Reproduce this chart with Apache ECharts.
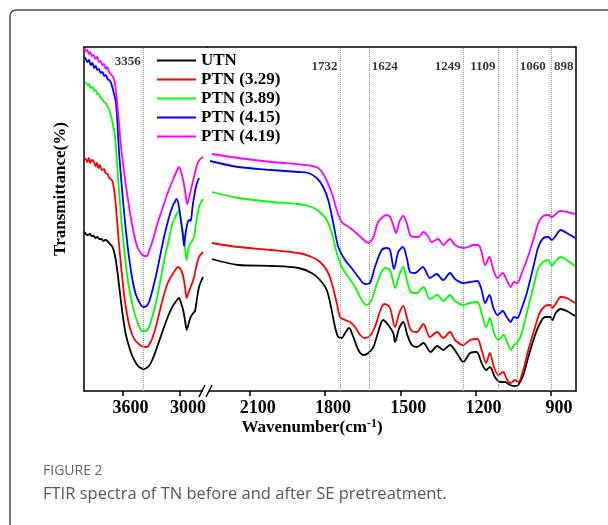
<!DOCTYPE html>
<html><head><meta charset="utf-8">
<script src="https://cdn.jsdelivr.net/npm/echarts@6/dist/echarts.min.js"></script>
<style>html,body{margin:0;padding:0;background:#fff}#c{width:608px;height:525px}</style>
</head><body><div id="c"></div>
<script>
const seriesNames = ['UTN', 'PTN (3.29)', 'PTN (3.89)', 'PTN (4.15)', 'PTN (4.19)'];
const seriesColors = ['#000000', '#ff0000', '#00ff00', '#0000ff', '#ff00ff'];

// High wavenumber segment (4000-2720 cm-1), transmittance in arbitrary units
const utnHigh = [[3995,159],[3982,157],[3960,156],[3940,157],[3920,155],[3900,155],[3882,153],[3862,154],[3840,152],[3820,152],[3800,150],[3780,151],[3757,150],[3730,147],[3710,145],[3695,142],[3675,134],[3653,120],[3632,103],[3612,87],[3590,71],[3566,57],[3530,44],[3497,35],[3460,28],[3427,24],[3375,22],[3350,23],[3323,25],[3290,31],[3254,40],[3210,52],[3167,64],[3120,76],[3081,84],[3040,90],[3011,93],[2990,88],[2966,80],[2948,70],[2931,61],[2910,68],[2890,74],[2870,77],[2845,80],[2825,92],[2803,104],[2780,110],[2761,114]];
const p329High = [[3995,233],[3982,232],[3965,229],[3950,233],[3935,228],[3918,231],[3896,229],[3880,225],[3865,228],[3850,223],[3835,226],[3815,221],[3792,222],[3775,218],[3755,217],[3735,213],[3705,210],[3685,200],[3670,187],[3653,167],[3636,147],[3610,121],[3584,97],[3558,80],[3532,67],[3497,56],[3462,50],[3400,45],[3347,44],[3306,49],[3270,58],[3237,70],[3185,90],[3133,107],[3070,118],[3018,124],[2990,121],[2966,114],[2948,103],[2931,93],[2910,99],[2890,104],[2870,109],[2855,114],[2830,125],[2803,134],[2761,139]];
const p389High = [[3982,309],[3965,306],[3948,307],[3930,303],[3912,304],[3895,300],[3878,301],[3862,297],[3845,297],[3828,293],[3810,292],[3792,289],[3775,288],[3757,285],[3740,282],[3722,276],[3705,270],[3690,262],[3680,257],[3663,238],[3646,214],[3624,186],[3601,160],[3575,136],[3549,114],[3515,95],[3480,80],[3440,68],[3393,60],[3360,60],[3323,64],[3290,74],[3254,87],[3210,108],[3167,130],[3120,150],[3081,167],[3040,176],[3011,180],[2990,170],[2966,157],[2948,143],[2931,131],[2915,141],[2897,147],[2875,150],[2855,154],[2830,170],[2803,184],[2780,189],[2761,192]];
const p415High = [[3995,334],[3982,332],[3965,329],[3948,331],[3930,326],[3912,328],[3895,323],[3878,325],[3862,321],[3845,322],[3826,318],[3808,319],[3790,315],[3772,316],[3755,312],[3740,311],[3722,309],[3700,302],[3685,296],[3670,290],[3653,270],[3636,240],[3610,208],[3584,180],[3558,155],[3532,134],[3497,112],[3462,97],[3420,88],[3383,84],[3350,85],[3323,89],[3290,100],[3254,114],[3210,134],[3167,154],[3120,172],[3081,184],[3050,190],[3035,192],[3010,183],[2987,167],[2970,155],[2959,145],[2945,156],[2925,167],[2905,171],[2890,170],[2872,183],[2855,194],[2830,206],[2803,213]];
const p419High = [[3995,343],[3982,340],[3965,341],[3950,337],[3935,339],[3918,335],[3900,336],[3882,332],[3862,334],[3845,329],[3828,330],[3810,326],[3792,327],[3775,322],[3757,324],[3740,319],[3722,317],[3705,315],[3688,312],[3670,302],[3653,287],[3636,268],[3618,247],[3592,226],[3566,207],[3540,190],[3514,174],[3480,157],[3445,144],[3410,138],[3375,135],[3347,135],[3323,140],[3280,152],[3237,167],[3185,182],[3133,197],[3070,212],[3030,221],[3011,224],[2990,219],[2966,210],[2945,198],[2925,187],[2900,196],[2873,207],[2845,218],[2821,227],[2790,232],[2761,234]];

// Low wavenumber segment (2270-800 cm-1)
const utnLow = [[2251,132],[2145,126],[2012,125],[1906,123],[1853,118],[1820,111],[1793,101],[1776,84],[1760,64],[1747,54],[1733,53],[1720,58],[1704,63],[1687,54],[1667,41],[1647,36],[1627,38],[1607,44],[1588,59],[1568,71],[1548,66],[1528,58],[1521,49],[1504,63],[1488,69],[1472,56],[1454,46],[1434,44],[1408,48],[1379,39],[1353,45],[1329,41],[1302,46],[1275,38],[1249,29],[1222,38],[1196,39],[1176,28],[1158,21],[1143,24],[1123,14],[1103,9],[1083,9],[1063,6],[1043,5],[1030,6],[1010,16],[990,34],[963,56],[943,68],[923,74],[903,74],[894,71],[881,78],[861,82],[837,80],[804,75]];
const p329Low = [[2251,148],[2145,144],[2012,141],[1906,138],[1853,134],[1820,129],[1793,121],[1773,108],[1753,88],[1740,74],[1720,71],[1700,69],[1680,64],[1660,56],[1641,53],[1621,55],[1601,64],[1574,84],[1561,87],[1541,83],[1521,64],[1504,78],[1488,85],[1474,74],[1458,61],[1434,59],[1408,67],[1382,54],[1353,59],[1329,53],[1302,59],[1282,51],[1249,46],[1222,51],[1193,52],[1176,41],[1158,28],[1143,38],[1127,24],[1109,16],[1090,19],[1074,11],[1060,8],[1043,11],[1030,9],[1010,21],[990,41],[963,64],[943,79],[923,85],[903,86],[894,83],[881,87],[861,94],[837,93],[804,88]];
const p389Low = [[2251,199],[2145,193],[2012,189],[1906,187],[1853,184],[1820,179],[1793,171],[1773,158],[1753,138],[1733,124],[1707,114],[1680,104],[1654,91],[1634,86],[1614,91],[1588,111],[1561,123],[1541,121],[1520,103],[1504,116],[1488,124],[1474,111],[1458,99],[1434,98],[1408,104],[1382,92],[1353,96],[1329,90],[1302,96],[1282,90],[1249,86],[1222,88],[1193,89],[1176,78],[1158,64],[1143,73],[1127,58],[1109,51],[1090,56],[1074,49],[1060,41],[1047,46],[1034,48],[1016,58],[996,78],[970,104],[950,123],[930,129],[910,131],[897,125],[884,129],[861,134],[837,131],[804,125]];
const p415Low = [[2258,230],[2145,224],[2012,221],[1906,219],[1866,218],[1833,213],[1807,204],[1787,191],[1767,168],[1747,144],[1720,131],[1694,123],[1667,114],[1641,107],[1621,108],[1601,124],[1574,141],[1554,143],[1541,141],[1525,122],[1508,139],[1490,144],[1474,133],[1461,119],[1441,118],[1410,124],[1382,113],[1355,117],[1329,111],[1302,118],[1282,112],[1249,108],[1222,109],[1193,110],[1176,101],[1162,88],[1145,96],[1129,83],[1113,76],[1092,80],[1076,74],[1060,69],[1047,74],[1034,73],[1016,83],[996,98],[970,124],[950,144],[930,153],[910,154],[897,151],[884,154],[861,161],[837,158],[804,153]];
const p419Low = [[2251,237],[2145,233],[2012,229],[1880,226],[1827,223],[1800,214],[1773,198],[1753,181],[1733,169],[1700,163],[1680,159],[1654,153],[1627,148],[1607,154],[1588,169],[1554,176],[1541,174],[1528,166],[1517,158],[1504,169],[1488,175],[1474,168],[1461,156],[1441,154],[1428,154],[1408,159],[1388,154],[1375,149],[1349,152],[1329,146],[1302,152],[1282,146],[1249,143],[1229,144],[1209,146],[1189,146],[1176,139],[1162,126],[1145,134],[1129,121],[1113,113],[1092,118],[1076,111],[1060,104],[1047,109],[1034,108],[1016,118],[996,131],[970,151],[950,168],[930,175],[910,176],[897,174],[884,176],[864,180],[837,179],[804,177]];

const highData = [utnHigh, p329High, p389High, p415High, p419High];
const lowData = [utnLow, p329Low, p389Low, p415Low, p419Low];

const peakLabels = ['3356', '1732', '1624', '1249', '1109', '1060', '898'];
const peakPositions = [3383, 1740, 1624, 1249, 1111, 1034, 898];
const peakSides = ['left', 'left', 'right', 'left', 'left', 'right', 'right'];
const tickHigh = [3600, 3000];
const tickLow = [2100, 1800, 1500, 1200, 900];

const SERIF = "'Liberation Serif','Times New Roman',serif";
const chart = echarts.init(document.getElementById('c'), null, {renderer: 'canvas'});

const axisLineStyle = {show: true, lineStyle: {color: '#000', width: 1.5}};
function bottomAxis(grid, min, max, ticks) {
  return {
    type: 'value', gridIndex: grid, inverse: true, min: min, max: max, position: 'bottom',
    axisLine: axisLineStyle,
    axisTick: {show: true, inside: false, length: 5, customValues: ticks, lineStyle: {color: '#000', width: 1.5}},
    axisLabel: {customValues: ticks, formatter: v => String(v), color: '#000', fontFamily: SERIF, fontWeight: 'bold', fontSize: 18, margin: 8, padding: [0, 0, 0, 16]},
    splitLine: {show: false}
  };
}
function topAxis(grid, min, max) {
  return {type: 'value', gridIndex: grid, inverse: true, min: min, max: max, position: 'top',
    axisLine: axisLineStyle, axisTick: {show: false}, axisLabel: {show: false}, splitLine: {show: false}};
}
function yAx(grid, pos) {
  return {type: 'value', gridIndex: grid, min: 0, max: 344, position: pos,
    axisLine: axisLineStyle, axisTick: {show: false}, axisLabel: {show: false}, splitLine: {show: false}};
}

const series = [];
seriesNames.forEach((n, i) => {
  [[0, highData[i]], [1, lowData[i]]].forEach(([g, d]) => {
    series.push({
      name: n, type: 'line', xAxisIndex: g, yAxisIndex: g, data: d,
      symbol: 'none', smooth: 0.3, lineStyle: {color: seriesColors[i], width: 1.8},
      itemStyle: {color: seriesColors[i]}, z: 3 + i
    });
  });
});

// peak markers and labels
[0, 1].forEach(g => {
  const idx = peakPositions.map((p, k) => k).filter(k => (g === 0 ? peakPositions[k] > 2500 : peakPositions[k] < 2500));
  series.push({
    type: 'scatter', xAxisIndex: g, yAxisIndex: g, symbolSize: 1, itemStyle: {color: 'rgba(0,0,0,0)'}, silent: true, z: 2,
    label: {show: true, distance: 2, color: '#000', fontFamily: SERIF, fontWeight: 'bold', fontSize: 13,
      formatter: p => p.data.text},
    data: idx.map(k => ({
      value: [peakPositions[k], g === 0 ? 329 : 324], text: peakLabels[k],
      label: {position: peakSides[k]}
    })),
    markLine: {
      silent: true, symbol: ['none', 'none'], label: {show: false},
      lineStyle: {color: '#999', type: 'dotted', width: 1},
      data: idx.map(k => ({xAxis: peakPositions[k]}))
    }
  });
});

chart.setOption({
  animation: false,
  backgroundColor: '#fff',
  grid: [
    {left: 84, top: 47, width: 123, height: 344},
    {left: 207, top: 47, width: 369, height: 344}
  ],
  xAxis: [bottomAxis(0, 2720, 4000, tickHigh), bottomAxis(1, 800, 2270, tickLow), topAxis(0, 2720, 4000), topAxis(1, 800, 2270)],
  yAxis: [yAx(0, 'left'), yAx(1, 'right')],
  legend: {
    data: seriesNames, orient: 'vertical', left: 152, top: 47, itemWidth: 39, itemHeight: 2, itemGap: 2, icon: 'rect',
    textStyle: {fontFamily: SERIF, fontWeight: 'bold', fontSize: 17, color: '#000', lineHeight: 17},
    backgroundColor: 'transparent'
  },
  series: series,
  graphic: [
    {type: 'rect', shape: {x: 10, y: 10, width: 640, height: 560, r: 6}, style: {fill: 'none', stroke: '#4a4a4a', lineWidth: 1.5}, z: 100},
    {type: 'rect', shape: {x: 203, y: 388, width: 6, height: 7}, style: {fill: '#fff'}, z: 100},
    {type: 'line', shape: {x1: 199, y1: 397, x2: 205, y2: 385}, style: {stroke: '#000', lineWidth: 1.5}, z: 101},
    {type: 'line', shape: {x1: 206, y1: 397, x2: 212, y2: 385}, style: {stroke: '#000', lineWidth: 1.5}, z: 101},
    {type: 'text', x: 312, y: 427, z: 100, style: {
      text: '{a|Wavenumber(cm}{s|-1}{a|)}', align: 'center', verticalAlign: 'middle',
      rich: {a: {fontFamily: SERIF, fontWeight: 'bold', fontSize: 17, fill: '#000', verticalAlign: 'bottom'},
             s: {fontFamily: SERIF, fontWeight: 'bold', fontSize: 12, fill: '#000', verticalAlign: 'top', padding: [0, 0, 7, 0]}}
    }},
    {type: 'text', x: 61, y: 189, rotation: Math.PI / 2, z: 100, style: {
      text: 'Transmittance(%)', align: 'center', verticalAlign: 'middle',
      fontFamily: SERIF, fontWeight: 'bold', fontSize: 17, fill: '#000'}},
    {type: 'text', x: 43, y: 471, z: 100, style: {text: 'FIGURE 2', verticalAlign: 'middle',
      fontFamily: "'Open Sans', sans-serif", fontSize: 14, fill: '#666'}},
    {type: 'text', x: 43, y: 494, z: 100, style: {text: 'FTIR spectra of TN before and after SE pretreatment.', verticalAlign: 'middle',
      fontFamily: "'Open Sans', sans-serif", fontSize: 16.5, fill: '#555'}}
  ]
});
</script></body></html>
